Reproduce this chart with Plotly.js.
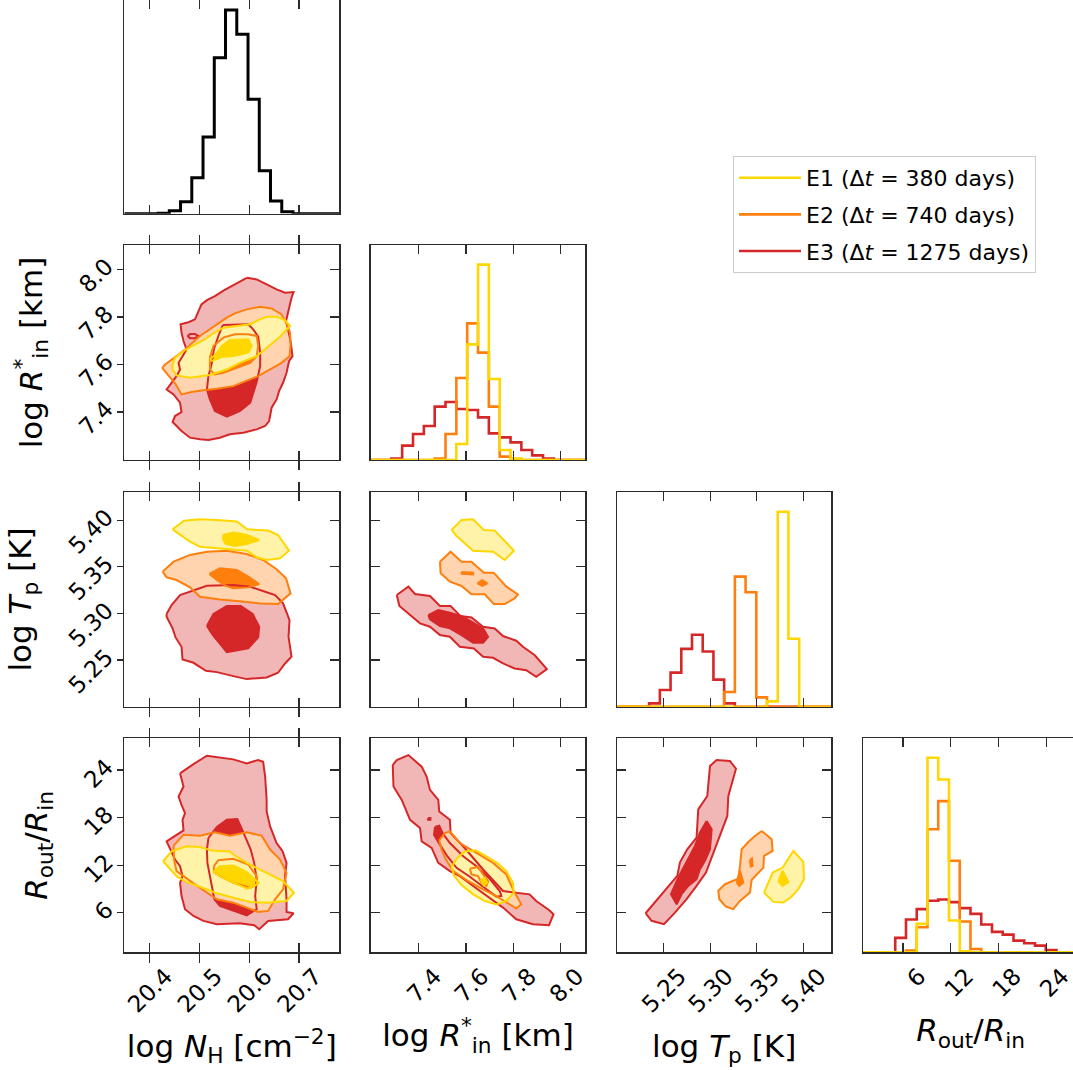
<!DOCTYPE html>
<html><head><meta charset="utf-8">
<script src="https://cdn.plot.ly/plotly-3.0.1.min.js"></script>
<style>html,body{margin:0;padding:0;overflow:hidden;background:#fff}#plot{width:1080px;height:1070px}</style>
</head><body><div id="plot"></div>
<script>
// ================= DATA =================
const seriesNames = ['E1 (Δ<i>t</i> = 380 days)', 'E2 (Δ<i>t</i> = 740 days)', 'E3 (Δ<i>t</i> = 1275 days)'];
const seriesColors = ['#ffd700', '#ff7f0e', '#d62728'];
const seriesLight = ['#fff3aa', '#ffd4af', '#f1b7b7'];

const paramTitles = ['log <i>N</i><sub>H</sub> [cm<sup>−2</sup>]', 'log <i>R</i><sup>*</sup><sub>in</sub> [km]', 'log <i>T</i><sub>p</sub> [K]', '<i>R</i><sub>out</sub>/<i>R</i><sub>in</sub>'];
const paramRanges = [[20.349, 20.781], [7.198, 8.103], [5.20, 5.43], [1.0, 28.0]];
const paramTicks = [[20.4, 20.5, 20.6, 20.7], [7.4, 7.6, 7.8, 8.0], [5.25, 5.30, 5.35, 5.40], [6, 12, 18, 24]];
const paramTickText = [['20.4', '20.5', '20.6', '20.7'], ['7.4', '7.6', '7.8', '8.0'], ['5.25', '5.30', '5.35', '5.40'], ['6', '12', '18', '24']];

// 1D histograms (bin start, bin width, counts)
const nhBinLo = 20.349, nhBinW = 0.0226;
const nhCounts = [0, 0, 0, 1, 9, 36, 108, 230, 468, 611, 538, 343, 129, 38, 6, 0, 0, 0, 0, 0];
const rinBinLo = 7.1936, rinBinW = 0.0457;
const rinE1 = [0, 0, 0, 0, 0, 0, 0, 0, 48, 347, 586, 243, 30, 4, 0, 0, 0, 0, 0, 0];
const rinE2 = [0, 0, 0, 0, 0, 0, 4, 78, 246, 410, 322, 160, 10, 3, 0, 0, 0, 0, 0, 0];
const rinE3 = [0, 0, 4, 43, 78, 102, 160, 174, 153, 150, 128, 80, 68, 53, 30, 14, 4, 0, 0, 0];
const tpBinLo = 5.20, tpBinW = 0.0115;
const tpE1 = [0, 0, 0, 0, 0, 0, 0, 0, 0, 0, 0, 0, 0, 0, 16, 583, 203, 0, 0, 0];
const tpE2 = [0, 0, 0, 0, 0, 0, 0, 0, 0, 0, 44, 389, 342, 28, 0, 0, 0, 0, 0, 0];
const tpE3 = [0, 0, 0, 10, 50, 102, 173, 215, 165, 81, 10, 0, 0, 0, 0, 0, 0, 0, 0, 0];
const roBinLo = 0.96, roBinW = 1.352;
const roE1 = [0, 0, 0, 0, 0, 85, 582, 517, 95, 3, 0, 0, 0, 0, 0, 0, 0, 0, 0, 0];
const roE2 = [0, 0, 0, 0, 5, 75, 368, 452, 274, 92, 10, 0, 0, 0, 0, 0, 0, 0, 0, 0];
const roE3 = [0, 0, 0, 43, 98, 129, 154, 158, 150, 132, 115, 83, 61, 53, 35, 27, 20, 7, 0, 0];
const histTops = [641, 645, 641, 640];

// 2D credible contours [x, y] (outer = lower level, inner = higher level)
// log NH vs log Rin
const nhRin_E3_out = [[20.595,7.965],[20.615,7.958],[20.635,7.937],[20.655,7.916],[20.672,7.902],[20.689,7.905],[20.685,7.881],[20.680,7.832],[20.674,7.783],[20.678,7.748],[20.683,7.699],[20.687,7.635],[20.680,7.614],[20.675,7.565],[20.668,7.523],[20.660,7.488],[20.655,7.453],[20.645,7.418],[20.640,7.362],[20.632,7.341],[20.615,7.327],[20.588,7.313],[20.561,7.306],[20.541,7.292],[20.518,7.282],[20.501,7.285],[20.481,7.292],[20.464,7.320],[20.446,7.358],[20.451,7.383],[20.464,7.400],[20.461,7.439],[20.448,7.474],[20.434,7.495],[20.444,7.523],[20.454,7.551],[20.461,7.579],[20.458,7.607],[20.466,7.635],[20.474,7.664],[20.468,7.699],[20.464,7.734],[20.462,7.769],[20.478,7.778],[20.491,7.790],[20.498,7.825],[20.504,7.853],[20.515,7.871],[20.531,7.888],[20.549,7.912],[20.571,7.937]];
const nhRin_E3_in = [[20.547,7.766],[20.571,7.767],[20.598,7.769],[20.608,7.748],[20.618,7.717],[20.622,7.650],[20.622,7.593],[20.615,7.526],[20.608,7.481],[20.602,7.439],[20.581,7.404],[20.555,7.380],[20.531,7.404],[20.521,7.453],[20.515,7.495],[20.518,7.551],[20.525,7.607],[20.529,7.664],[20.538,7.720]];
const nhRin_E3_island = [[20.476,7.720],[20.481,7.728],[20.491,7.728],[20.498,7.720],[20.491,7.711],[20.481,7.711]];
const nhRin_E2_out = [[20.425,7.586],[20.438,7.554],[20.451,7.521],[20.464,7.474],[20.484,7.484],[20.508,7.492],[20.535,7.498],[20.568,7.509],[20.595,7.530],[20.618,7.551],[20.642,7.579],[20.665,7.607],[20.681,7.635],[20.683,7.685],[20.682,7.734],[20.676,7.769],[20.665,7.811],[20.645,7.836],[20.622,7.843],[20.595,7.832],[20.571,7.815],[20.555,7.797],[20.538,7.773],[20.521,7.748],[20.501,7.720],[20.486,7.692],[20.473,7.666],[20.458,7.642],[20.442,7.619],[20.431,7.600]];
const nhRin_E2_in = [[20.521,7.629],[20.528,7.678],[20.548,7.713],[20.571,7.727],[20.598,7.727],[20.615,7.720],[20.618,7.678],[20.615,7.635],[20.602,7.607],[20.575,7.586],[20.548,7.565],[20.531,7.558],[20.521,7.579]];
const nhRin_E1_out = [[20.446,7.579],[20.454,7.554],[20.481,7.544],[20.521,7.556],[20.555,7.579],[20.581,7.607],[20.615,7.635],[20.638,7.675],[20.662,7.717],[20.682,7.762],[20.672,7.787],[20.655,7.801],[20.635,7.801],[20.618,7.787],[20.602,7.769],[20.575,7.762],[20.548,7.755],[20.528,7.731],[20.508,7.703],[20.488,7.680],[20.468,7.657],[20.451,7.628],[20.446,7.600]];
const nhRin_E1_in = [[20.521,7.622],[20.533,7.643],[20.545,7.678],[20.561,7.703],[20.598,7.706],[20.605,7.678],[20.598,7.650],[20.568,7.636],[20.548,7.633],[20.535,7.622],[20.525,7.615]];
// log NH vs log Tp
const nhTp_E1_out = [[20.446,5.3903],[20.469,5.3996],[20.501,5.4011],[20.535,5.4004],[20.575,5.3986],[20.596,5.3903],[20.638,5.3889],[20.658,5.3842],[20.680,5.3674],[20.662,5.3592],[20.635,5.3574],[20.615,5.3603],[20.595,5.3674],[20.568,5.3688],[20.535,5.3699],[20.501,5.3717],[20.481,5.3771],[20.461,5.3842]];
const nhTp_E1_in = [[20.548,5.3842],[20.568,5.3868],[20.595,5.3842],[20.620,5.3789],[20.595,5.3746],[20.571,5.3724],[20.553,5.3746],[20.547,5.3796]];
const nhTp_E2_out = [[20.426,5.3449],[20.448,5.3556],[20.481,5.3628],[20.515,5.3663],[20.555,5.3674],[20.595,5.3638],[20.628,5.3574],[20.655,5.3474],[20.674,5.3377],[20.683,5.3216],[20.658,5.3101],[20.622,5.3108],[20.581,5.3130],[20.541,5.3151],[20.501,5.3180],[20.481,5.3280],[20.454,5.3359],[20.434,5.3388]];
const nhTp_E2_in = [[20.520,5.3424],[20.541,5.3484],[20.575,5.3467],[20.598,5.3395],[20.620,5.3316],[20.598,5.3280],[20.568,5.3270],[20.551,5.3302],[20.535,5.3359]];
const nhTp_E3_out = [[20.434,5.2994],[20.444,5.3091],[20.461,5.3198],[20.488,5.3252],[20.515,5.3298],[20.568,5.3305],[20.602,5.3287],[20.635,5.3227],[20.652,5.3198],[20.668,5.3108],[20.675,5.3000],[20.681,5.2929],[20.679,5.2750],[20.685,5.2536],[20.672,5.2464],[20.658,5.2364],[20.635,5.2314],[20.595,5.2296],[20.568,5.2328],[20.535,5.2371],[20.513,5.2385],[20.488,5.2471],[20.466,5.2507],[20.464,5.2643],[20.452,5.2743],[20.446,5.2840],[20.434,5.2965]];
const nhTp_E3_in = [[20.515,5.2865],[20.528,5.2994],[20.555,5.3080],[20.583,5.3080],[20.607,5.2994],[20.620,5.2858],[20.618,5.2743],[20.598,5.2625],[20.555,5.2586],[20.541,5.2672],[20.527,5.2768]];
// log NH vs Rout/Rin
const nhRo_E3_out = [[20.461,23.58],[20.488,24.75],[20.515,25.80],[20.568,25.34],[20.595,24.84],[20.618,25.26],[20.628,25.05],[20.632,23.16],[20.635,20.23],[20.635,18.77],[20.642,16.89],[20.655,14.79],[20.667,13.75],[20.675,12.28],[20.672,10.61],[20.675,7.68],[20.675,6.09],[20.689,5.92],[20.678,5.17],[20.638,4.96],[20.620,3.92],[20.610,4.42],[20.581,4.67],[20.535,4.54],[20.508,4.96],[20.488,5.59],[20.471,6.43],[20.464,8.10],[20.461,9.77],[20.466,10.61],[20.461,11.87],[20.451,12.70],[20.434,15.00],[20.454,15.84],[20.468,16.38],[20.466,17.72],[20.471,18.56],[20.464,19.61],[20.458,20.65],[20.468,21.91],[20.464,22.74]];
const nhRo_E3_in = [[20.518,15.42],[20.535,16.80],[20.555,17.72],[20.576,17.81],[20.583,16.89],[20.591,15.63],[20.603,13.96],[20.610,12.28],[20.615,10.19],[20.612,8.10],[20.615,6.43],[20.595,5.67],[20.568,6.22],[20.541,6.85],[20.530,7.68],[20.523,9.77],[20.516,12.28],[20.515,13.96]];
const nhRo_E2_out = [[20.448,14.46],[20.468,15.84],[20.501,15.72],[20.531,16.13],[20.561,15.72],[20.595,16.13],[20.625,15.72],[20.642,13.96],[20.662,12.70],[20.675,11.03],[20.668,8.94],[20.652,7.68],[20.638,6.22],[20.618,6.09],[20.595,6.64],[20.568,7.26],[20.535,7.68],[20.509,8.73],[20.488,9.69],[20.468,10.61],[20.454,11.24],[20.449,12.70]];
const nhRo_E2_in = [[20.529,11.87],[20.538,12.62],[20.568,12.79],[20.598,12.08],[20.615,10.61],[20.616,9.56],[20.602,9.15],[20.568,9.77],[20.541,10.61],[20.529,11.11]];
const nhRo_E1_out = [[20.427,12.49],[20.444,13.75],[20.474,14.38],[20.501,14.29],[20.525,13.83],[20.561,13.71],[20.571,13.21],[20.595,12.28],[20.635,11.03],[20.668,9.98],[20.690,8.52],[20.675,7.47],[20.635,7.26],[20.602,7.35],[20.568,7.89],[20.535,8.44],[20.501,9.27],[20.474,9.86],[20.454,10.61],[20.438,11.66]];
const nhRo_E1_in = [[20.528,11.15],[20.541,11.87],[20.568,11.95],[20.595,11.11],[20.619,9.77],[20.610,9.36],[20.596,9.02],[20.571,9.69],[20.545,10.44]];
// log Rin vs log Tp
const rinTp_E1_out = [[7.539,5.3896],[7.581,5.4004],[7.630,5.4011],[7.675,5.3896],[7.721,5.3889],[7.802,5.3674],[7.763,5.3574],[7.714,5.3663],[7.630,5.3674],[7.560,5.3832]];
const rinTp_E2_out = [[7.490,5.3556],[7.535,5.3663],[7.581,5.3556],[7.623,5.3556],[7.675,5.3438],[7.717,5.3438],[7.770,5.3288],[7.819,5.3205],[7.805,5.3162],[7.763,5.3101],[7.717,5.3101],[7.679,5.3205],[7.623,5.3205],[7.581,5.3295],[7.532,5.3341],[7.493,5.3431]];
const rinTp_E2_in = [[7.581,5.3445],[7.630,5.3438],[7.630,5.3420],[7.582,5.3427]];
const rinTp_E2_in2 = [[7.648,5.3323],[7.668,5.3356],[7.690,5.3323],[7.669,5.3295]];
const rinTp_E3_out = [[7.308,5.3198],[7.357,5.3288],[7.385,5.3209],[7.448,5.3187],[7.490,5.3080],[7.535,5.3080],[7.577,5.2972],[7.623,5.2958],[7.672,5.2858],[7.721,5.2840],[7.756,5.2758],[7.812,5.2708],[7.840,5.2643],[7.889,5.2554],[7.941,5.2403],[7.896,5.2321],[7.854,5.2392],[7.805,5.2410],[7.756,5.2464],[7.714,5.2525],[7.672,5.2536],[7.633,5.2625],[7.574,5.2643],[7.532,5.2750],[7.490,5.2768],[7.448,5.2858],[7.406,5.2894],[7.364,5.2983],[7.319,5.3080]];
const rinTp_E3_in = [[7.441,5.2983],[7.483,5.3037],[7.532,5.3008],[7.581,5.2972],[7.623,5.2912],[7.672,5.2840],[7.693,5.2750],[7.672,5.2686],[7.630,5.2686],[7.581,5.2768],[7.532,5.2840],[7.490,5.2865],[7.448,5.2937]];
// log Rin vs Rout/Rin
const rinRo_E3_out = [[7.291,24.63],[7.308,25.26],[7.357,25.88],[7.413,24.42],[7.434,23.16],[7.448,21.49],[7.483,20.23],[7.487,18.77],[7.532,17.72],[7.535,16.05],[7.588,14.38],[7.672,11.45],[7.756,8.73],[7.812,8.52],[7.868,8.31],[7.896,7.47],[7.950,6.34],[7.969,5.80],[7.950,4.42],[7.882,4.54],[7.812,5.17],[7.756,6.64],[7.686,8.10],[7.630,9.36],[7.574,10.61],[7.532,11.24],[7.483,12.28],[7.455,14.17],[7.413,15.00],[7.406,16.68],[7.364,17.72],[7.329,20.23],[7.294,21.91]];
const rinRo_E3_in = [[7.469,16.80],[7.487,16.97],[7.501,16.05],[7.532,14.79],[7.588,13.12],[7.644,11.87],[7.700,10.28],[7.742,8.73],[7.749,8.10],[7.728,8.02],[7.672,9.27],[7.616,10.53],[7.560,11.66],[7.521,13.12],[7.487,14.71],[7.465,15.84]];
const rinRo_E3_dot = [[7.440,17.93],[7.450,17.93],[7.450,17.72],[7.440,17.72]];
const rinRo_E2_out = [[7.487,15.13],[7.511,16.05],[7.532,16.26],[7.574,14.79],[7.644,13.54],[7.714,12.28],[7.770,10.82],[7.798,8.94],[7.833,7.05],[7.812,6.51],[7.784,7.05],[7.728,8.10],[7.672,8.94],[7.602,10.11],[7.546,11.24],[7.515,12.70],[7.497,13.96]];
const rinRo_E2_in = [[7.616,11.53],[7.651,11.78],[7.672,10.82],[7.693,9.98],[7.686,9.36],[7.665,9.77],[7.651,10.61],[7.623,10.82]];
const rinRo_E1_out = [[7.539,11.78],[7.563,12.91],[7.595,13.71],[7.641,13.87],[7.686,13.12],[7.735,12.20],[7.770,11.24],[7.798,9.77],[7.801,8.52],[7.770,7.47],[7.728,7.05],[7.679,7.47],[7.630,8.31],[7.581,9.48],[7.549,10.69]];
const rinRo_E1_in = [[7.662,10.11],[7.679,10.40],[7.689,9.77],[7.675,9.44]];
// log Tp vs Rout/Rin
const tpRo_E3_out = [[5.2307,5.93],[5.2407,7.28],[5.2532,8.96],[5.2647,10.64],[5.2675,12.32],[5.2754,14.00],[5.2854,15.47],[5.2872,19.04],[5.2969,20.72],[5.2998,24.50],[5.3069,25.26],[5.3212,25.13],[5.3277,24.17],[5.3230,21.98],[5.3195,20.72],[5.3184,18.20],[5.3123,16.31],[5.3069,14.84],[5.2990,12.32],[5.2955,11.06],[5.2854,9.38],[5.2747,7.70],[5.2622,6.00],[5.2504,4.55],[5.2371,4.97]];
const tpRo_E3_in = [[5.2962,17.57],[5.3016,16.52],[5.2998,14.00],[5.2944,12.53],[5.2890,11.48],[5.2854,10.22],[5.2765,9.38],[5.2693,8.33],[5.2640,7.07],[5.2579,8.33],[5.2658,10.43],[5.2704,11.48],[5.2776,13.16],[5.2837,14.42],[5.2890,16.10]];
const tpRo_E2_out = [[5.3553,16.31],[5.3660,15.26],[5.3671,13.79],[5.3578,13.16],[5.3571,11.69],[5.3499,10.72],[5.3445,10.13],[5.3427,8.54],[5.3320,7.49],[5.3248,6.44],[5.3169,6.77],[5.3098,7.70],[5.3087,8.75],[5.3159,9.59],[5.3302,10.30],[5.3320,11.90],[5.3338,14.00],[5.3409,14.92],[5.3481,15.68]];
const tpRo_E2_in = [[5.3284,9.80],[5.3320,11.27],[5.3356,9.80],[5.3313,9.38]];
const tpRo_E2_in2 = [[5.3427,12.66],[5.3449,12.83],[5.3456,11.90],[5.3434,11.82]];
const tpRo_E1_out = [[5.3578,8.54],[5.3671,11.06],[5.3778,11.69],[5.3893,13.79],[5.4000,12.40],[5.4007,10.22],[5.3946,8.96],[5.3864,7.91],[5.3785,7.28],[5.3678,7.36]];
const tpRo_E1_in = [[5.3732,9.92],[5.3778,11.27],[5.3839,9.88],[5.3778,9.38]];

// ================= LAYOUT GEOMETRY =================
const W = 1080, H = 1070;
const colPx = [[124.3, 339.3], [370.7, 585.3], [617, 831.3], [863.3, 1078]];
const rowPx = [[0, 213.7], [245, 460], [492.3, 706.7], [738.3, 952.3]];
const AX = '#2b2b2b';
const FONT = 'DejaVu Sans, sans-serif';
const TICKSIZE = 23, TITLESIZE = 31;

const pid = {};
let n = 0;
for (let r = 0; r < 4; r++) for (let c = 0; c <= r; c++) pid[r + ',' + c] = ++n;
const sfx = i => (i === 1 ? '' : String(i));

const layout = {
  width: W, height: H,
  margin: {l: 0, r: 0, t: 0, b: 0},
  paper_bgcolor: '#fff', plot_bgcolor: 'rgba(0,0,0,0)',
  font: {family: FONT, color: '#000', size: TICKSIZE},
  hovermode: false,
  showlegend: true,
  legend: {x: 733 / W, y: 1 - 156 / H, xanchor: 'left', yanchor: 'top', bgcolor: '#fff', bordercolor: '#cccccc', borderwidth: 1,
           font: {family: FONT, size: 22, color: '#000'}, traceorder: 'grouped', tracegroupgap: 5, itemwidth: 62},
};

for (let r = 0; r < 4; r++) {
  for (let c = 0; c <= r; c++) {
    const id = pid[r + ',' + c];
    const xa = {
      domain: [colPx[c][0] / W, colPx[c][1] / W], anchor: 'y' + sfx(id),
      range: paramRanges[c], tickvals: paramTicks[c], ticktext: paramTickText[c],
      ticks: 'inside', ticklen: 9, tickwidth: 1.2, tickcolor: AX, mirror: 'allticks',
      showline: true, linecolor: AX, linewidth: 1.3, showgrid: false, zeroline: false,
      showticklabels: r === 3, tickangle: -45, tickfont: {size: TICKSIZE, family: FONT}, ticklabelshift: 16,
    };
    if (r === 3) xa.title = {text: paramTitles[c], font: {size: TITLESIZE, family: FONT}, standoff: 18};
    const ya = {
      domain: [1 - rowPx[r][1] / H, 1 - rowPx[r][0] / H], anchor: 'x' + sfx(id),
      showline: true, linecolor: AX, linewidth: 1.3, showgrid: false, zeroline: false, mirror: true,
    };
    if (r === c) {
      Object.assign(ya, {range: [0, histTops[r]], ticks: '', showticklabels: false});
    } else {
      Object.assign(ya, {range: paramRanges[r], tickvals: paramTicks[r], ticktext: paramTickText[r],
        ticklen: 9, tickwidth: 1.2, tickcolor: AX});
      if (c === 0) {
        Object.assign(ya, {ticks: 'outside', ticklen: 6, mirror: true, showticklabels: true, tickangle: -45,
          tickfont: {size: TICKSIZE, family: FONT}, ticklabelstandoff: 6, ticklabelshift: -6,
          title: {text: paramTitles[r], font: {size: TITLESIZE, family: FONT}, standoff: 22}});
      } else {
        Object.assign(ya, {ticks: 'inside', mirror: 'allticks', showticklabels: false});
      }
    }
    layout['xaxis' + sfx(id)] = xa;
    layout['yaxis' + sfx(id)] = ya;
  }
}
// right-side inward ticks for the left column (overlay axes)
const overlayIds = {};
let ov = 10;
for (let r = 1; r < 4; r++) {
  const id = pid[r + ',0'];
  const oid = ++ov;
  overlayIds[r] = oid;
  layout['yaxis' + oid] = {overlaying: 'y' + sfx(id), anchor: 'x' + sfx(id), side: 'right',
    range: paramRanges[r], tickvals: paramTicks[r], ticks: 'inside', ticklen: 9, tickwidth: 1.2, tickcolor: AX,
    showticklabels: false, showline: false, showgrid: false, zeroline: false};
}

// ================= TRACES =================
const traces = [];
function closed(p) { return p.concat([p[0]]); }
function ax(id) { return {xaxis: 'x' + sfx(id), yaxis: 'y' + sfx(id)}; }

function stepTrace(id, lo, w, counts, color, width, name, showlegend, rank) {
  const x = [], y = [];
  for (let i = 0; i <= counts.length; i++) { x.push(lo + i * w); y.push(i < counts.length ? counts[i] : counts[counts.length - 1]); }
  const t = Object.assign({type: 'scatter', mode: 'lines', x, y, line: {shape: 'hv', color, width},
    name: name || '', showlegend: !!showlegend, hoverinfo: 'skip'}, ax(id));
  if (rank) { t.legendrank = rank; t.legendgroup = 'g' + rank; }
  return t;
}

// diagonal histograms
traces.push(stepTrace(pid['0,0'], nhBinLo, nhBinW, nhCounts, '#000', 3, '', false));
const diagHists = [
  [pid['1,1'], rinBinLo, rinBinW, [rinE1, rinE2, rinE3]],
  [pid['2,2'], tpBinLo, tpBinW, [tpE1, tpE2, tpE3]],
  [pid['3,3'], roBinLo, roBinW, [roE1, roE2, roE3]],
];
diagHists.forEach(([id, lo, w, sets], k) => {
  for (let s = 2; s >= 0; s--) {
    traces.push(stepTrace(id, lo, w, sets[s], seriesColors[s], 2.6, seriesNames[s], k === 0, k === 0 ? s + 1 : 0));
  }
});

// 2D panels: [panel id, series index, outer polygon, inner polygons, line-only polygons]
const contourSets = [
  [pid['1,0'], 2, nhRin_E3_out, [nhRin_E3_in], [nhRin_E3_island]],
  [pid['1,0'], 1, nhRin_E2_out, [nhRin_E2_in], []],
  [pid['1,0'], 0, nhRin_E1_out, [nhRin_E1_in], []],
  [pid['2,0'], 2, nhTp_E3_out, [nhTp_E3_in], []],
  [pid['2,0'], 1, nhTp_E2_out, [nhTp_E2_in], []],
  [pid['2,0'], 0, nhTp_E1_out, [nhTp_E1_in], []],
  [pid['2,1'], 2, rinTp_E3_out, [rinTp_E3_in], []],
  [pid['2,1'], 1, rinTp_E2_out, [rinTp_E2_in, rinTp_E2_in2], []],
  [pid['2,1'], 0, rinTp_E1_out, [], []],
  [pid['3,0'], 2, nhRo_E3_out, [nhRo_E3_in], []],
  [pid['3,0'], 1, nhRo_E2_out, [nhRo_E2_in], []],
  [pid['3,0'], 0, nhRo_E1_out, [nhRo_E1_in], []],
  [pid['3,1'], 2, rinRo_E3_out, [rinRo_E3_in, rinRo_E3_dot], []],
  [pid['3,1'], 1, rinRo_E2_out, [rinRo_E2_in], []],
  [pid['3,1'], 0, rinRo_E1_out, [rinRo_E1_in], []],
  [pid['3,2'], 2, tpRo_E3_out, [tpRo_E3_in], []],
  [pid['3,2'], 1, tpRo_E2_out, [tpRo_E2_in, tpRo_E2_in2], []],
  [pid['3,2'], 0, tpRo_E1_out, [tpRo_E1_in], []],
];
function fillTrace(id, poly, color) {
  const p = closed(poly);
  return Object.assign({type: 'scatter', mode: 'lines', x: p.map(d => d[0]), y: p.map(d => d[1]),
    fill: 'toself', fillcolor: color, line: {width: 0, color: color}, showlegend: false, hoverinfo: 'skip'}, ax(id));
}
function lineTrace(id, poly, color, width) {
  const p = closed(poly);
  return Object.assign({type: 'scatter', mode: 'lines', x: p.map(d => d[0]), y: p.map(d => d[1]),
    line: {width: width, color: color}, showlegend: false, hoverinfo: 'skip'}, ax(id));
}
contourSets.forEach(([id, s, outer, inners]) => {
  traces.push(fillTrace(id, outer, seriesLight[s]));
  inners.forEach(p => traces.push(fillTrace(id, p, seriesColors[s])));
});
contourSets.forEach(([id, s, outer, inners, extras]) => {
  traces.push(lineTrace(id, outer, seriesColors[s], 2));
  inners.forEach(p => traces.push(lineTrace(id, p, seriesColors[s], 2)));
  extras.forEach(p => traces.push(lineTrace(id, p, seriesColors[s], 2)));
});
for (let r = 1; r < 4; r++) {
  traces.push({type: 'scatter', mode: 'lines', x: [], y: [], xaxis: 'x' + sfx(pid[r + ',0']), yaxis: 'y' + overlayIds[r], showlegend: false, hoverinfo: 'skip'});
}

Plotly.newPlot('plot', traces, layout, {staticPlot: true, displayModeBar: false});
</script>
</body></html>
